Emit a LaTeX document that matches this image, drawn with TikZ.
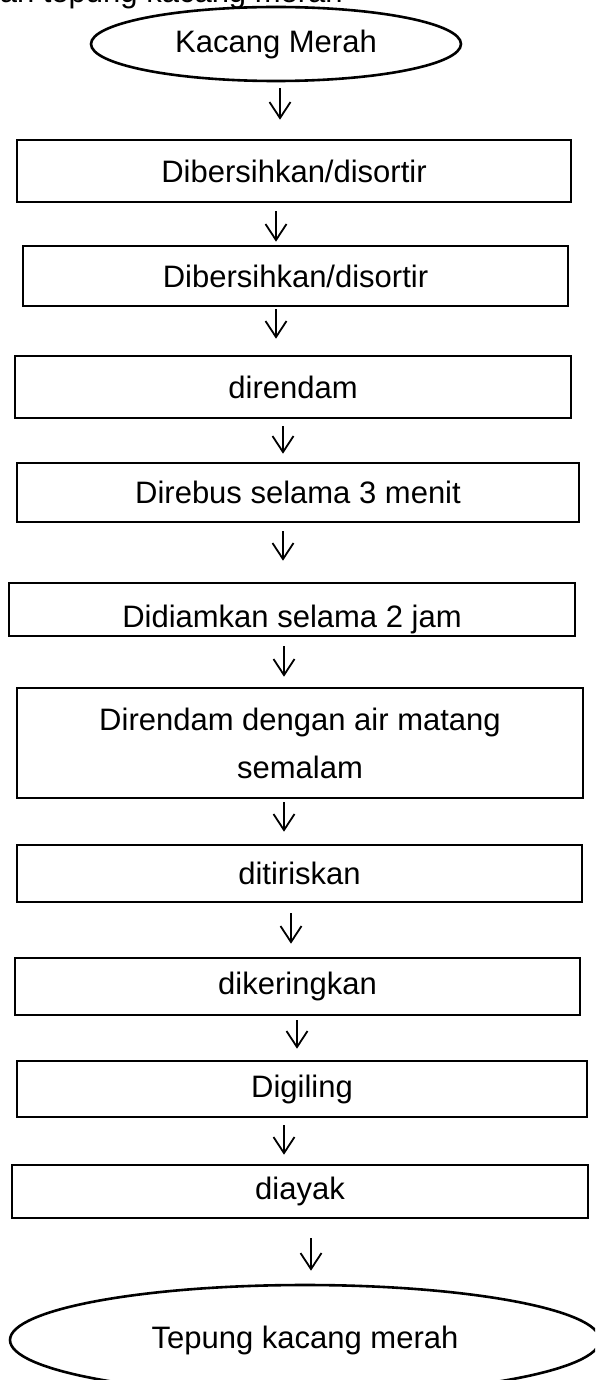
\documentclass[tikz,border=0pt]{standalone}
\usepackage{fontspec}
\setmainfont{Liberation Sans}
\usetikzlibrary{shapes.geometric,arrows.meta}
\tikzset{
  every node/.style={font=\fontsize{31}{48}\selectfont},
  procbox/.style={draw, line width=2.6pt, rectangle, inner sep=0pt, align=center},
  termin/.style={draw, line width=2.6pt, ellipse, inner sep=0pt},
  arr/.style={line width=1.8pt, -{Straight Barb[length=16pt,width=21pt,line width=1.8pt]}},
}
\begin{document}
\begin{tikzpicture}[x=1pt,y=-1pt]
\useasboundingbox (0,0) rectangle (595,1380);
\clip (0,0) rectangle (595,1380);
% clipped caption at the top
\node[anchor=base east, inner sep=0pt] (cap) at (343,3) {pembuatan tepung kacang merah};
% terminators
\node[termin, minimum width=370pt, minimum height=74pt] (e1) at (276,44) {Kacang Merah};
% process boxes
\node[procbox, minimum width=554pt, minimum height=62pt] (b1) at (294,171) {Dibersihkan/disortir};
\node[procbox, minimum width=545pt, minimum height=60pt] (b2) at (295.5,276) {Dibersihkan/disortir};
\node[procbox, minimum width=556pt, minimum height=62pt] (b3) at (293,387) {direndam};
\node[procbox, minimum width=562pt, minimum height=59pt] (b4) at (298,492.5) {Direbus selama 3 menit};
\node[procbox, minimum width=566pt, minimum height=53pt] (b5) at (292,609.5) {};
\begin{scope}
\clip (b5.north west) rectangle ([yshift=-1.3pt]b5.south east);
\node[anchor=base, inner sep=0pt] (t5) at (292,627) {Didiamkan selama 2 jam};
\end{scope}
\node[procbox, minimum width=566pt, minimum height=110pt] (b6) at (300,743) {Direndam dengan air matang\\semalam};
\node[procbox, minimum width=565pt, minimum height=57pt] (b7) at (299.5,873.5) {ditiriskan};
\node[procbox, minimum width=565pt, minimum height=57pt] (b8) at (297.5,986.5) {dikeringkan};
\node[procbox, minimum width=570pt, minimum height=56pt] (b9) at (302,1089) {Digiling};
\node[procbox, minimum width=576pt, minimum height=53pt] (b10) at (300,1191.5) {diayak};
\node[termin, minimum width=590pt, minimum height=110pt] (e2) at (305,1340) {Tepung kacang merah};
% connectors
\draw[arr, shorten <=6pt, shorten >=19pt] (e1.south -| 280,0) -- (b1.north -| 280,0);
\draw[arr, shorten <=8pt, shorten >=3pt] (b1.south -| 276,0) -- (b2.north -| 276,0);
\draw[arr, shorten <=2pt, shorten >=16pt] (b2.south -| 276,0) -- (b3.north -| 276,0);
\draw[arr, shorten <=7pt, shorten >=8pt] (b3.south -| 283,0) -- (b4.north -| 283,0);
\draw[arr, shorten <=8pt, shorten >=21pt] (b4.south -| 283,0) -- (b5.north -| 283,0);
\draw[arr, shorten <=9pt, shorten >=10pt] (b5.south -| 284,0) -- (b6.north -| 284,0);
\draw[arr, shorten <=3pt, shorten >=12pt] (b6.south -| 284,0) -- (b7.north -| 284,0);
\draw[arr, shorten <=10pt, shorten >=13pt] (b7.south -| 291,0) -- (b8.north -| 291,0);
\draw[arr, shorten <=4pt, shorten >=11pt] (b8.south -| 297,0) -- (b9.north -| 297,0);
\draw[arr, shorten <=7pt, shorten >=9pt] (b9.south -| 284,0) -- (b10.north -| 284,0);
\draw[arr, shorten <=19pt, shorten >=13pt] (b10.south -| 311,0) -- (e2.north -| 311,0);
\end{tikzpicture}
\end{document}
